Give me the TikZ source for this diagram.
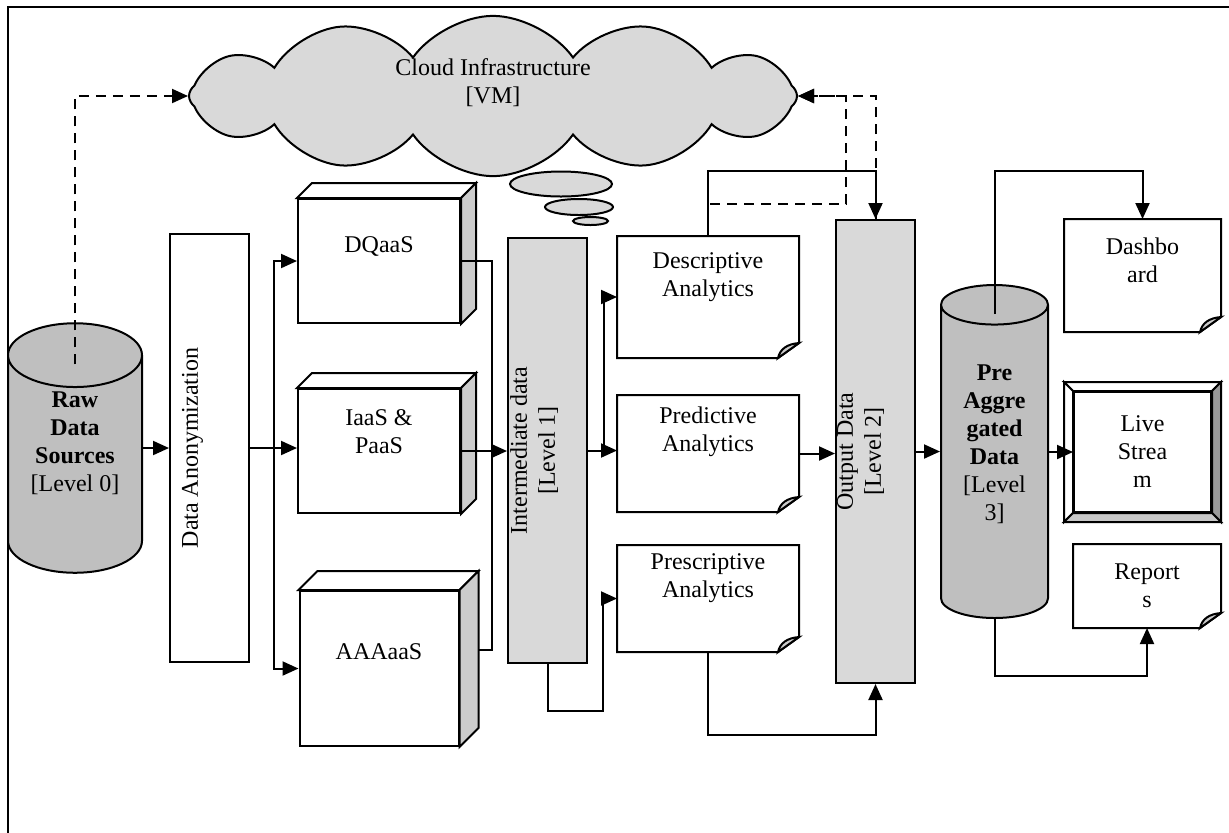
\documentclass[tikz,border=0pt]{standalone}
\usepackage{fontspec}
\setmainfont{Liberation Serif}
\usetikzlibrary{positioning,arrows.meta,calc,shapes.geometric,shapes.symbols}

\definecolor{cloudgray}{gray}{0.85}
\definecolor{bargray}{gray}{0.85}
\definecolor{dbgray}{gray}{0.75}
\definecolor{sidegray}{gray}{0.8}
\definecolor{foldgray}{gray}{0.8}
\definecolor{bevdark}{gray}{0.6}
\definecolor{bevlight}{gray}{0.78}

\tikzset{
  box/.style={rectangle, draw=black, fill=white, align=center, inner sep=2pt},
  bar/.style={box, rotate=90, inner sep=0pt, minimum height=39.5pt},
  cube/.style={box, minimum width=81pt},
  doc/.style={box, draw=none, minimum width=90pt},
  db/.style={cylinder, shape border rotate=90, draw=black, fill=dbgray, align=center, inner sep=2pt, anchor=shape center},
  bubble/.style={ellipse, draw=black, fill=cloudgray, inner sep=0pt},
  arr/.style={-{Triangle[length=8pt,width=7pt]}},
  dasharr/.style={arr, dash pattern=on 5pt off 3.5pt},
}

\begin{document}
\begin{tikzpicture}[x=0.5pt, y=-0.5pt, line width=1pt, font=\fontsize{12}{14}\selectfont]

\useasboundingbox (0,0) rectangle (1229,832);
\draw (8,7) rectangle (1240,845);

%%% nodes and boxes

%%% CLOUD
\node [cloud, cloud puffs=12, cloud puff arc=110, cloud ignores aspect, draw=black, fill=cloudgray, minimum width=304pt, minimum height=61pt, align=center] (cloud) at (493,96) {Cloud Infrastructure\\{[VM]}\\[1pt]\mbox{}};
\node [bubble, minimum width=51pt, minimum height=12.5pt] (bubble1) at (561,184) {};
\node [bubble, minimum width=34pt, minimum height=8pt] (bubble2) at (579,207) {};
\node [bubble, minimum width=17.5pt, minimum height=4pt] (bubble3) at (590.5,221) {};

%%% RAW DATA + ANONYMIZATION
\node [db, minimum width=67pt, minimum height=110pt, aspect=0.66] (raw) at (75,448) {\textbf{Raw}\\\textbf{Data}\\\textbf{Sources}\\{[Level 0]}\\[14pt]\mbox{}};
\node [bar, minimum width=214pt] (anon) at (209.5,448) {Data Anonymization\\[5.5pt]\mbox{}};

%%% SERVICES
\node [cube, minimum height=62pt] (dqaas) at (379,261) {DQaaS\\[2pt]\mbox{}};
\node [cube, minimum height=62pt, below=32pt of dqaas] (iaas) {IaaS \&\\PaaS\\[5pt]\mbox{}};
\node [cube, minimum width=79.5pt, minimum height=77.5pt, below=38pt of iaas] (aaaaas) {AAAaaS\\[3pt]\mbox{}};

\foreach \n/\d in {dqaas/15, iaas/15, aaaaas/19} {
  \draw[fill=white] (\n.north west) -- ++(\d,-\d) -- ([shift={(\d,-\d)}]\n.north east) -- (\n.north east) -- cycle;
  \draw[fill=sidegray] (\n.north east) -- ++(\d,-\d) -- ([shift={(\d,-\d)}]\n.south east) -- (\n.south east) -- cycle;
}

%%% LEVEL 1
\node [bar, fill=bargray, minimum width=212.5pt] (inter) at (547.5,450.5) {Intermediate data\\{[Level 1]}\\[1pt]\mbox{}};

%%% ANALYTICS
\node [doc, minimum height=60pt] (desc) at (708,297) {Descriptive\\Analytics\\[8pt]\mbox{}};
\node [doc, minimum height=57.5pt, below=18.5pt of desc] (pred) {Predictive\\Analytics\\[10pt]\mbox{}};
\node [doc, minimum height=52.5pt, below=16.5pt of pred] (presc) {Prescriptive\\Analytics\\[9pt]\mbox{}};

%%% LEVEL 2 + 3
\node [bar, fill=bargray, minimum width=231.5pt] (output) at (875.5,451.5) {Output Data\\{[Level 2]}\\[2.5pt]\mbox{}};
\node [db, minimum width=53.5pt, minimum height=166.5pt, aspect=0.56] (pre) at (994.5,451.5) {\textbf{Pre}\\\textbf{Aggre}\\\textbf{gated}\\\textbf{Data}\\{[Level}\\3]\\[9pt]\mbox{}};

%%% OUTPUTS
\node [doc, minimum width=77.5pt, minimum height=55.5pt] (dash) at (1142.5,275.5) {Dashbo\\ard\\[1.5pt]\mbox{}};
\node [box, minimum width=68.5pt, minimum height=60pt] (live) at (1142.5,452) {Live\\Strea\\m};
\node [doc, minimum width=73pt, minimum height=41pt] (reports) at (1147,586) {Report\\s};

\draw[fill=white] ([shift={(-9,-9)}]live.north west) -- ([shift={(9,-9)}]live.north east) -- (live.north east) -- (live.north west) -- cycle;
\draw[fill=white] ([shift={(-9,-9)}]live.north west) -- (live.north west) -- (live.south west) -- ([shift={(-9,9)}]live.south west) -- cycle;
\draw[fill=bevdark] ([shift={(9,-9)}]live.north east) -- ([shift={(9,9)}]live.south east) -- (live.south east) -- (live.north east) -- cycle;
\draw[fill=bevlight] ([shift={(-9,9)}]live.south west) -- (live.south west) -- (live.south east) -- ([shift={(9,9)}]live.south east) -- cycle;

\foreach \n in {desc,pred,presc,dash,reports} {
  \draw (\n.north west) -- (\n.north east) -- ($(\n.south east)+(0,-15)$) -- ($(\n.south east)+(-21,0)$) -- (\n.south west) -- cycle;
  \filldraw[fill=foldgray] ($(\n.south east)+(-21,0)$) .. controls ($(\n.south east)+(-19,-9)$) and ($(\n.south east)+(-12,-14)$) .. ($(\n.south east)+(0,-15)$) -- cycle;
}

%%% connections, arrows
\coordinate (cube-bus) at (492,449);
\coordinate (inter-loop) at (603,711);
\coordinate (desc-turn) at (846,204);

\draw [dasharr] ([yshift=-21pt]raw.top) |- (cloud.west);
\draw [arr] (raw.east |- raw.shape center) -- (anon.north);
\draw [arr] (anon.south) -- (anon.south -| iaas.west);
\draw [arr] (anon.south) -- ++(24,0) |- (dqaas.west);
\draw [arr] (anon.south) -- ++(24,0) |- (aaaaas.west);

\draw (dqaas.east) -| (cube-bus);
\draw ([shift={(19,-19)}]aaaaas.east) -| (cube-bus);
\draw [arr] (iaas.east) -- (iaas.east -| inter.north);

\draw [arr] (inter.south) -- (inter.south -| pred.west);
\draw [arr] (inter.south) -- ++(16,0) |- (desc.west);
\draw [arr] (inter.west) |- (inter-loop) |- (presc.west);

\draw [arr] (pred.east) -- (pred.east -| output.north);
\draw [arr] (desc.north) -- ++(0,-65) -| (output.east);
\draw [arr] (presc.south) -- ++(0,83) -| (output.west);
\draw [dasharr] (desc.north) |- (desc-turn) |- (cloud.east);
\draw [dasharr] (output.east) |- (cloud.east);

\draw [arr] (output.south) -- (output.south -| pre.west);
\draw [arr] (pre.east |- live.west) -- (live.west);
\draw [arr] ([yshift=-15pt]pre.top) -- ++(0,-143) -| (dash.north);
\draw [arr] (pre.bottom) -- ++(0,57) -| (reports.south);

\end{tikzpicture}
\end{document}
